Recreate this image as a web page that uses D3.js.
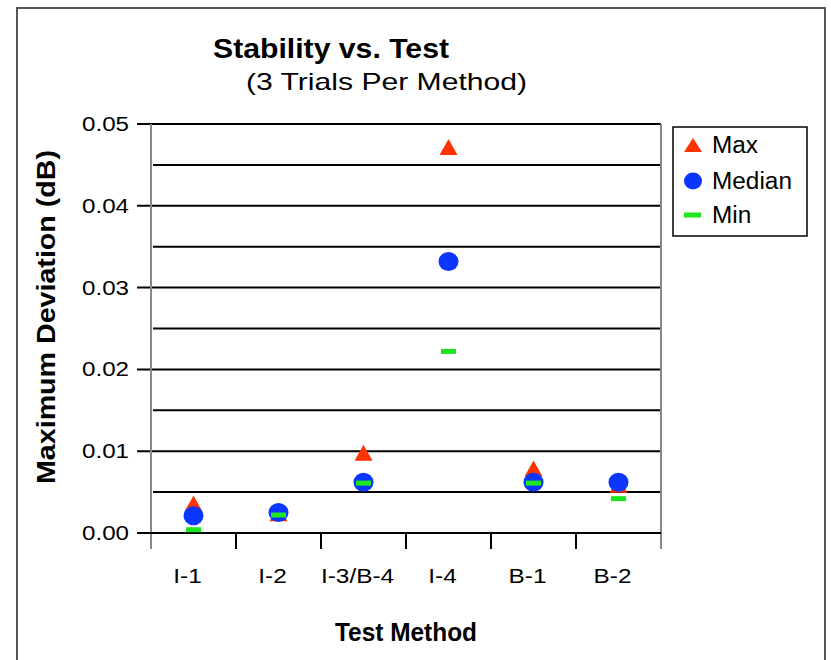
<!DOCTYPE html>
<html>
<head>
<meta charset="utf-8">
<script src="https://cdn.jsdelivr.net/npm/d3@7"></script>
<style>
  html, body { margin: 0; padding: 0; background: #fff; }
  svg { display: block; font-family: "Liberation Sans", Arial, sans-serif; }
</style>
</head>
<body>
<svg id="chart" width="831" height="660"></svg>
<script>
// ---- data ----
const categories = ["I-1", "I-2", "I-3/B-4", "I-4", "B-1", "B-2"];
const maxValues    = [0.0036, 0.0024, 0.0098, 0.0472, 0.0079, 0.0059];
const medianValues = [0.0021, 0.0025, 0.0062, 0.0332, 0.0062, 0.0062];
const minValues    = [0.0004, 0.0022, 0.0061, 0.0222, 0.0061, 0.0042];
const majorTicks = [0, 0.01, 0.02, 0.03, 0.04, 0.05];
const minorTicks = [0.005, 0.015, 0.025, 0.035, 0.045];
const seriesNames = ["Max", "Median", "Min"];

(function () {
const svg = d3.select("#chart");
const pL = 151, pR = 661, pT = 124, pB = 533;

const x = d3.scaleBand().domain(categories).range([pL, pR]).padding(0);
const y = d3.scaleLinear().domain([0, 0.05]).range([pB, pT]);

function stretch(sel, k) {
  sel.each(function () {
    const len = this.getComputedTextLength();
    d3.select(this).attr("textLength", len * k).attr("lengthAdjust", "spacingAndGlyphs");
  });
}

// outer border
svg.append("rect").attr("x", 17).attr("y", 8).attr("width", 808).attr("height", 700)
  .attr("fill", "none").attr("stroke", "#555").attr("stroke-width", 2);

// gridlines
svg.append("g").selectAll("line").data(minorTicks).join("line")
  .attr("x1", pL + 2).attr("x2", pR).attr("y1", d => y(d)).attr("y2", d => y(d))
  .attr("stroke", "#000").attr("stroke-width", 2);
svg.append("g").selectAll("line").data(majorTicks).join("line")
  .attr("x1", pL - 14).attr("x2", pR).attr("y1", d => y(d)).attr("y2", d => y(d))
  .attr("stroke", "#000").attr("stroke-width", 2);

// right plot edge
svg.append("line").attr("x1", pR).attr("x2", pR).attr("y1", pT).attr("y2", pB + 16)
  .attr("stroke", "#888").attr("stroke-width", 2);

// y axis (labels)
const yAxis = d3.axisLeft(y).tickValues(majorTicks).tickFormat(d3.format(".2f")).tickSize(0).tickPadding(0);
const gy = svg.append("g").attr("transform", `translate(${pL - 22},0)`).call(yAxis);
gy.select(".domain").remove();
gy.selectAll("text").attr("font-size", 20).attr("fill", "#000")
  .attr("font-family", "'Liberation Sans', Arial, sans-serif")
  .attr("textLength", 47).attr("lengthAdjust", "spacingAndGlyphs");

// y axis line (gray)
svg.append("line").attr("x1", pL).attr("x2", pL).attr("y1", pT).attr("y2", pB + 16)
  .attr("stroke", "#888").attr("stroke-width", 2);

// x axis line and boundary ticks
svg.append("line").attr("x1", pL - 14).attr("x2", pR).attr("y1", pB).attr("y2", pB)
  .attr("stroke", "#000").attr("stroke-width", 2);
const bounds = categories.map(c => x(c)).concat([x.range()[1]]);
svg.append("g").selectAll("line").data(bounds.slice(1, -1)).join("line")
  .attr("x1", d => d).attr("x2", d => d).attr("y1", pB).attr("y2", pB + 16)
  .attr("stroke", "#000").attr("stroke-width", 2);

// x axis labels
const xAxis = d3.axisBottom(x).tickSize(0).tickPadding(0);
const gx = svg.append("g").attr("transform", `translate(-6,${pB + 35})`).call(xAxis);
gx.select(".domain").remove();
gx.selectAll("text").attr("font-size", 21).attr("fill", "#000")
  .attr("font-family", "'Liberation Sans', Arial, sans-serif");
stretch(gx.selectAll("text"), 1.16);

// markers
const g = svg.append("g");
const cx = c => x(c) + x.bandwidth() / 2;
categories.forEach((c, i) => {
  const yy = y(maxValues[i]);
  g.append("path")
    .attr("d", `M${cx(c)},${yy - 8} L${cx(c) + 9},${yy + 8} L${cx(c) - 9},${yy + 8} Z`)
    .attr("fill", "#ff3300");
});
categories.forEach((c, i) => {
  g.append("ellipse").attr("cx", cx(c)).attr("cy", y(medianValues[i]))
    .attr("rx", 10).attr("ry", 9.5).attr("fill", "#0a36ff");
});
categories.forEach((c, i) => {
  g.append("rect").attr("x", cx(c) - 7.5).attr("y", y(minValues[i]) - 2.5)
    .attr("width", 15).attr("height", 5).attr("fill", "#1ee61e");
});

// legend
const lg = svg.append("g");
lg.append("rect").attr("x", 673).attr("y", 127).attr("width", 134).attr("height", 109)
  .attr("fill", "#fff").attr("stroke", "#000").attr("stroke-width", 1.5);
const ly = [145, 181, 215];
lg.append("path").attr("d", `M693,${ly[0] - 7} L702,${ly[0] + 7} L684,${ly[0] + 7} Z`).attr("fill", "#ff3300");
lg.append("ellipse").attr("cx", 693).attr("cy", ly[1]).attr("rx", 9).attr("ry", 8.5).attr("fill", "#0a36ff");
lg.append("rect").attr("x", 684).attr("y", ly[2] - 2.5).attr("width", 17).attr("height", 5).attr("fill", "#1ee61e");
const lt = lg.selectAll("text").data(seriesNames).join("text")
  .attr("x", 712).attr("y", (d, i) => ly[i] + 8)
  .attr("font-size", 23).attr("fill", "#000").text(d => d);
stretch(lt, 1.06);

// titles
svg.append("text").attr("x", 213).attr("y", 58).attr("font-size", 28).attr("font-weight", "bold")
  .attr("textLength", 236).attr("lengthAdjust", "spacingAndGlyphs").text("Stability vs. Test");
svg.append("text").attr("x", 246).attr("y", 90).attr("font-size", 24)
  .attr("textLength", 281).attr("lengthAdjust", "spacingAndGlyphs").text("(3 Trials Per Method)");
svg.append("text").attr("x", 335).attr("y", 641).attr("font-size", 25).attr("font-weight", "bold")
  .attr("textLength", 142).attr("lengthAdjust", "spacingAndGlyphs").text("Test Method");
svg.append("text").attr("transform", "translate(55,317) rotate(-90)")
  .attr("font-size", 25).attr("font-weight", "bold").attr("text-anchor", "middle")
  .attr("textLength", 334).attr("lengthAdjust", "spacingAndGlyphs")
  .text("Maximum Deviation (dB)");
})();
</script>
</body>
</html>
